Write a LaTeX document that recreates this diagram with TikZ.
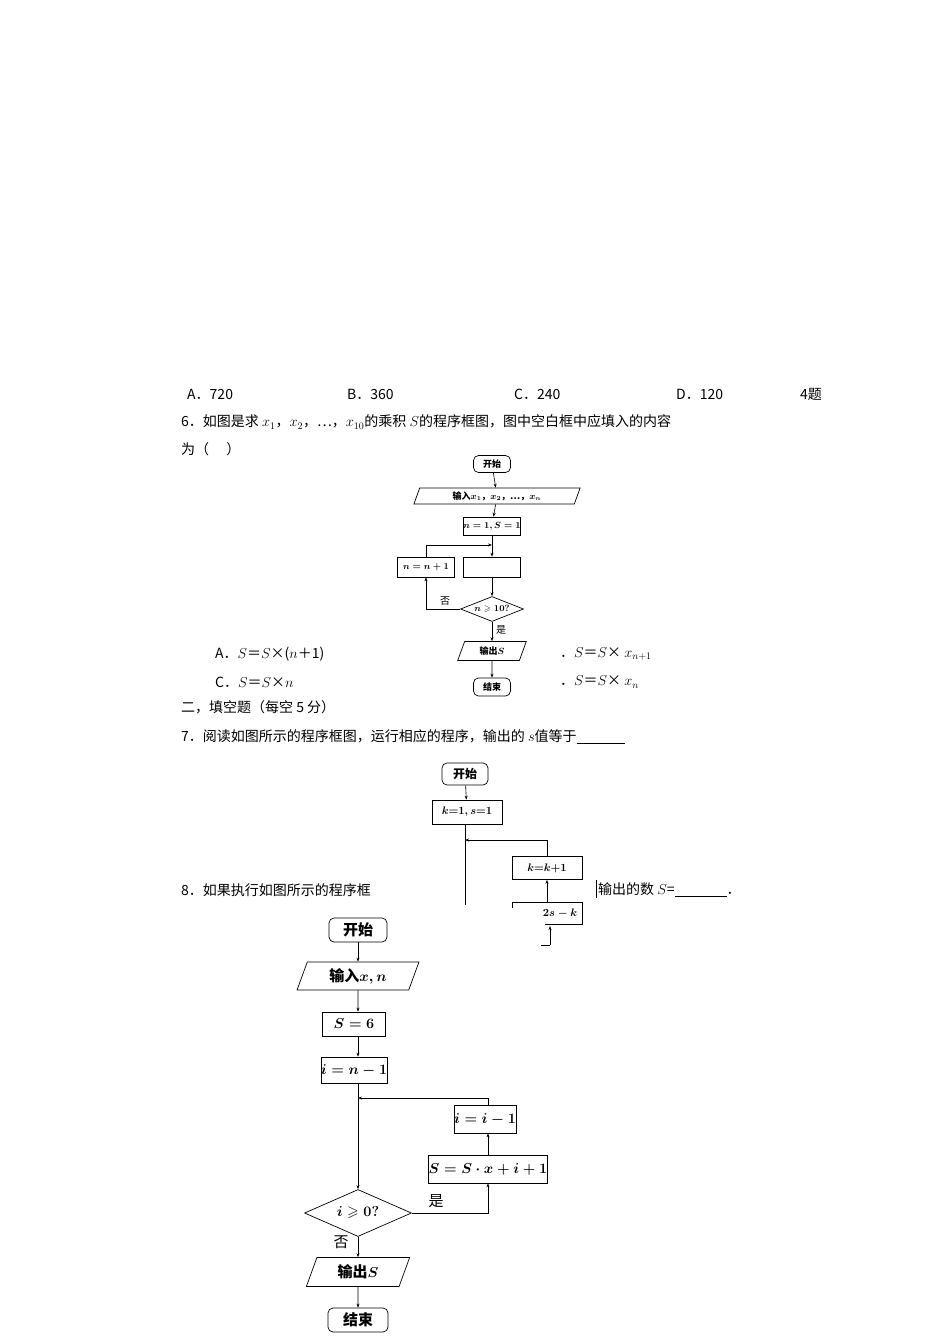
\documentclass[tikz,border=0pt]{standalone}
\usepackage{amsmath,amssymb}
\usepackage{fontspec}
\newfontfamily\cjk{Noto Sans CJK SC}
\usetikzlibrary{shapes.geometric,arrows.meta}
\begin{document}
\begin{tikzpicture}[x=1pt,y=-1pt,
  body/.style={anchor=west,inner sep=0pt,font=\fontsize{14}{16}\selectfont\cjk},
  ln/.style={line width=0.6pt},
  arr/.style={ln,-{Stealth[length=4pt,width=3pt]}},
  term/.style={draw,rounded corners=5pt,inner sep=0pt,line width=0.7pt},
  pbox/.style={draw,inner sep=0pt,line width=0.7pt},
  io/.style={draw,trapezium,trapezium left angle=70,trapezium right angle=110,inner sep=0pt,line width=0.7pt},
  dia/.style={draw,diamond,aspect=2.3,inner sep=0pt,line width=0.7pt},
  s1/.style={font=\fontsize{9}{10}\selectfont\bfseries\cjk},
  s3/.style={font=\fontsize{15}{17}\selectfont\bfseries\cjk}]
\useasboundingbox (0,0) rectangle (950,1344);
\fill[white] (0,0) rectangle (950,1344);
% text lines
\node[body] (a5) at (187,394) {A．720};
\node[body] (b5) at (347,394) {B．360};
\node[body] (c5) at (514,394) {C．240};
\node[body] (d5) at (676,394) {D．120};
\node[body] (t4) at (800,394) {4题};
\node[body] (q6) at (181,422) {6．如图是求 $x_1$，$x_2$，…，$x_{10}$的乘积 $S$的程序框图，图中空白框中应填入的内容};
\node[body] (q6b) at (181,449) {为（\quad\ ）};
\node[body] (oa) at (215,654) {A．$S$＝$S$×($n$＋1)};
\node[body] (oc) at (215,682) {C．$S$＝$S$×$n$};
\node[body] (ob) at (560,654) {．$S$＝$S$× $x_{n+1}$};
\node[body] (od) at (560,682) {．$S$＝$S$× $x_n$};
\node[body] (sec2) at (181,707) {二，填空题（每空 5 分）};
\node[body] (q7) at (181,737) {7．阅读如图所示的程序框图，运行相应的程序，输出的 $s$值等于\underline{\hspace{48pt}}};
\node[body] (q8) at (181,890) {8．如果执行如图所示的程序框};
\node[body] (q8b) at (598,890) {输出的数 $S$=\underline{\hspace{52pt}}．};
\draw[ln] (596,880) -- (596,898);
% flowchart 1
\node[term,s1,minimum width=37pt,minimum height=17pt] (f1s) at (492,464) {开始};
\node[io,s1,minimum width=100pt,minimum height=16pt] (f1i) at (497,496) {输入$\boldsymbol{x_1}$，$\boldsymbol{x_2}$，…，$\boldsymbol{x_n}$};
\node[pbox,s1,minimum width=56pt,minimum height=18pt] (f1a) at (492,526) {$\boldsymbol{n=1,S=1}$};
\node[pbox,s1,minimum width=57pt,minimum height=20pt] (f1n) at (426,567) {$\boldsymbol{n=n+1}$};
\node[pbox,minimum width=57pt,minimum height=20pt] (f1b) at (492,567) {};
\node[dia,s1,minimum width=63pt,minimum height=25pt] (f1d) at (492,609) {$\boldsymbol{n\geqslant10?}$};
\node[io,s1,minimum width=56pt,minimum height=19pt] (f1o) at (492,651) {输出$\boldsymbol{S}$};
\node[term,s1,minimum width=37pt,minimum height=18pt] (f1e) at (492,687) {结束};
\coordinate (j1) at (492,545);
\draw[arr] (f1s) -- (f1i);
\draw[arr] (f1i) -- (f1a);
\draw[arr] (f1a) -- (f1b);
\draw[arr] (f1n.north) |- (j1);
\draw[arr] (f1b) -- (f1d);
\draw[arr] (f1d.west) -| (f1n.south);
\draw[arr] (f1d) -- (f1o);
\draw[arr] (f1o) -- (f1e);
\node[font=\fontsize{10}{11}\selectfont\cjk] (no1) at (445,601) {否};
\node[font=\fontsize{10}{11}\selectfont\cjk] (ye1) at (501,630) {是};
% flowchart 2 (partly hidden)
\node[term,font=\fontsize{12}{13}\selectfont\bfseries\cjk,minimum width=46pt,minimum height=22pt] (f2s) at (465,774) {开始};
\node[pbox,font=\fontsize{11}{12}\selectfont,minimum width=70pt,minimum height=24pt] (f2a) at (467,812) {$\boldsymbol{k{=}1,s{=}1}$};
\node[pbox,font=\fontsize{11}{12}\selectfont,minimum width=70pt,minimum height=23pt] (f2k) at (547,868) {$\boldsymbol{k{=}k{+}1}$};
\coordinate (f2j) at (465,840);
\coordinate (f2c) at (465,905);
\draw[arr] (f2s) -- (f2a);
\draw[ln] (f2a.south -| f2c) -- (f2c);
\draw[arr] (f2k.north) |- (f2j);
\coordinate (f2t) at (547,902);
\draw[arr] (f2t) -- (f2k.south);
\draw[ln] (512,902) -- (582,902) -- (582,924) -- (545,924);
\draw[ln] (512,902) -- (512,908);
\node[font=\fontsize{11}{12}\selectfont] (f2x) at (560,913) {$\boldsymbol{2s-k}$};
\coordinate (f2u) at (550,926);
\coordinate (f2v) at (550,945);
\draw[arr] (f2v) -- (f2u);
\draw[ln] (541,945) -- (f2v);
% flowchart 3
\node[term,s3,minimum width=58pt,minimum height=24pt] (f3s) at (358,930) {开始};
\node[io,s3,minimum width=92pt,minimum height=28pt] (f3i) at (358,976) {输入$\boldsymbol{x,n}$};
\node[pbox,s3,minimum width=63pt,minimum height=24pt] (f3a) at (354,1024) {$\boldsymbol{S=6}$};
\node[pbox,s3,minimum width=63pt,minimum height=26pt] (f3b) at (354,1070) {$\boldsymbol{i=n-1}$};
\node[pbox,s3,minimum width=62pt,minimum height=28pt] (f3m) at (485,1119) {$\boldsymbol{i=i-1}$};
\node[pbox,s3,minimum width=98pt,minimum height=28pt] (f3u) at (488,1169) {$\boldsymbol{S=S\cdot x+i+1}$};
\node[dia,s3,minimum width=107pt,minimum height=47pt] (f3d) at (358,1213) {$\boldsymbol{i\geqslant0?}$};
\node[io,s3,minimum width=76pt,minimum height=29pt] (f3o) at (358,1272) {输出$\boldsymbol{S}$};
\node[term,s3,minimum width=60pt,minimum height=24pt] (f3e) at (358,1320) {结束};
\coordinate (f3j) at (358,1098);
\draw[arr] (f3s) -- (f3i);
\draw[arr] (f3i) -- (f3a.north -| f3i);
\draw[arr] (f3a.south -| f3i) -- (f3b.north -| f3i);
\draw[arr] (f3b.south -| f3i) -- (f3d);
\draw[arr] (f3m.north -| f3u) |- (f3j);
\draw[arr] (f3u) -- (f3m.south -| f3u);
\draw[arr] (f3d.east) -| (f3u.south);
\draw[arr] (f3d) -- (f3o);
\draw[arr] (f3o) -- (f3e);
\node[font=\fontsize{15}{17}\selectfont\cjk] (ye3) at (436,1201) {是};
\node[font=\fontsize{15}{17}\selectfont\cjk] (no3) at (341,1242) {否};
\end{tikzpicture}
\end{document}
